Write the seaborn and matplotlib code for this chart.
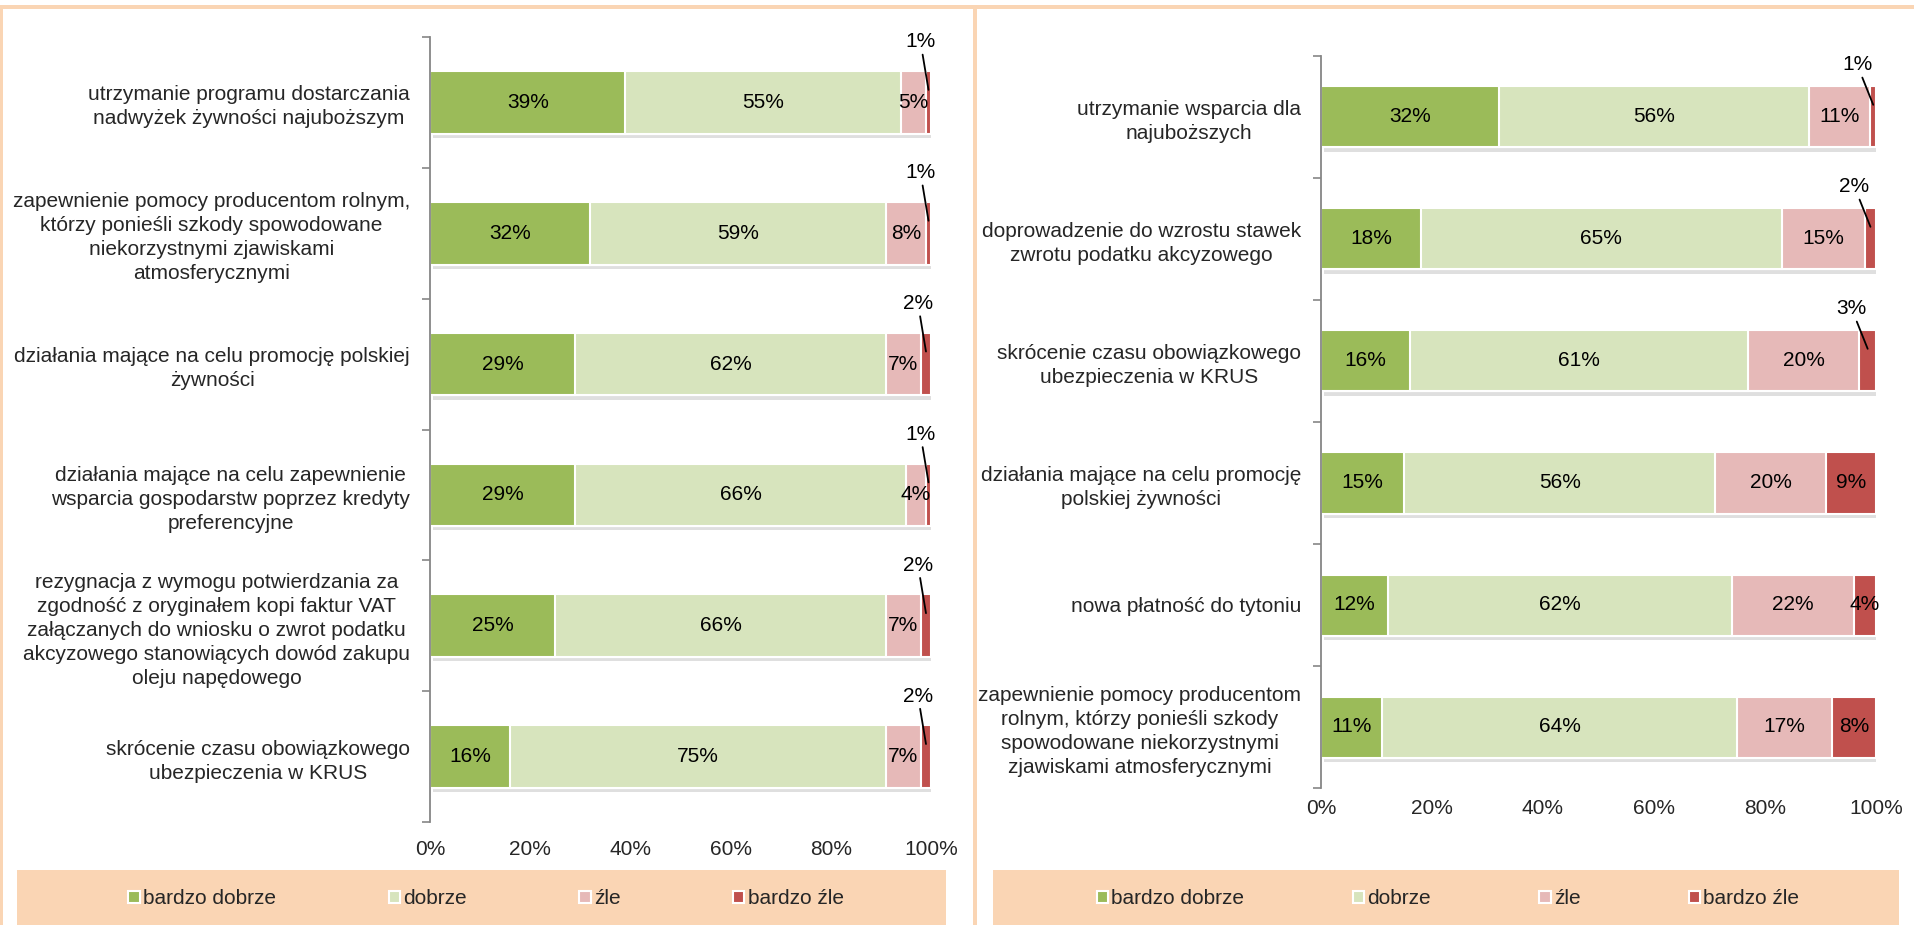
import numpy as np
import pandas as pd
import matplotlib
matplotlib.use("Agg")
import matplotlib.pyplot as plt
import matplotlib.patheffects as pe
from matplotlib.patches import Rectangle, Patch
import seaborn as sns

sns.set_theme(style="white")
plt.rcParams['font.family'] = ['Liberation Sans', 'DejaVu Sans']

# ---------------- data ----------------
series = ["bardzo dobrze", "dobrze", "źle", "bardzo źle"]
series_colors = ["#9BBB59", "#D7E4BD", "#E6B9B8", "#C0504D"]

left_categories = [
    "utrzymanie programu dostarczania\nnadwyżek żywności najuboższym",
    "zapewnienie pomocy producentom rolnym,\nktórzy ponieśli szkody spowodowane\nniekorzystnymi zjawiskami\natmosferycznymi",
    "działania mające na celu promocję polskiej\nżywności",
    "działania mające na celu zapewnienie\nwsparcia gospodarstw poprzez kredyty\npreferencyjne",
    "rezygnacja z wymogu potwierdzania za\nzgodność z oryginałem kopi faktur VAT\nzałączanych do wniosku o zwrot podatku\nakcyzowego stanowiących dowód zakupu\noleju napędowego",
    "skrócenie czasu obowiązkowego\nubezpieczenia w KRUS",
]
left_bardzo_dobrze = [39, 32, 29, 29, 25, 16]
left_dobrze = [55, 59, 62, 66, 66, 75]
left_zle = [5, 8, 7, 4, 7, 7]
left_bardzo_zle = [1, 1, 2, 1, 2, 2]

right_categories = [
    "utrzymanie wsparcia dla\nnajuboższych",
    "doprowadzenie do wzrostu stawek\nzwrotu podatku akcyzowego",
    "skrócenie czasu obowiązkowego\nubezpieczenia w KRUS",
    "działania mające na celu promocję\npolskiej żywności",
    "nowa płatność do tytoniu",
    "zapewnienie pomocy producentom\nrolnym, którzy ponieśli szkody\nspowodowane niekorzystnymi\nzjawiskami atmosferycznymi",
]
right_bardzo_dobrze = [32, 18, 16, 15, 12, 11]
right_dobrze = [56, 65, 61, 56, 62, 64]
right_zle = [11, 15, 20, 20, 22, 17]
right_bardzo_zle = [1, 2, 3, 9, 4, 8]

x_ticks = [0, 20, 40, 60, 80, 100]
x_tick_labels = ["0%", "20%", "40%", "60%", "80%", "100%"]

# ---------------- layout ----------------
W, H = 1915, 925
FS = 15
PEACH = "#FAD5B4"

fig = plt.figure(figsize=(W / 100, H / 100), dpi=100)
fig.patch.set_facecolor("white")


def px_rect(x0, y0, x1, y1):
    return [x0 / W, 1 - y1 / H, (x1 - x0) / W, (y1 - y0) / H]


def draw_panel(ax, cats, values, bar_width, lab_dx, lab_dy, xpad):
    vals = np.array(values)
    cum = np.cumsum(vals, axis=0)
    n = len(cats)
    for k in range(len(series) - 1, -1, -1):
        df = pd.DataFrame({"cat": cats, "value": cum[k]})
        start = len(ax.patches)
        sns.barplot(data=df, x="value", y="cat", orient="h", order=cats,
                    color=series_colors[k], saturation=1, width=bar_width,
                    edgecolor="white", linewidth=1.5, errorbar=None, ax=ax)
        if k == len(series) - 1:
            for p in ax.patches[start:]:
                p.set_path_effects([
                    pe.SimplePatchShadow(offset=(2, -3), shadow_rgbFace="#8c8c8c", alpha=0.28),
                    pe.Normal()])
    # value labels
    for k in range(len(series)):
        for i in range(n):
            v = vals[k][i]
            cx = cum[k][i] - v / 2
            if v > 3:
                ax.text(cx, i, f"{v}%", ha="center", va="center", fontsize=FS, color="black")
            else:
                ax.annotate(f"{v}%", xy=(cx, i - 0.2 * bar_width),
                            xytext=(lab_dx, lab_dy), textcoords="offset pixels",
                            ha="center", va="center", fontsize=FS, color="black",
                            arrowprops=dict(arrowstyle="-", color="black", lw=1.3,
                                            shrinkA=0, shrinkB=0))
    ax.set_xlim(0, 100)
    ax.set_ylim(n - 0.5, -0.5)
    ax.set_xlabel("")
    ax.set_ylabel("")
    ax.set_xticks(x_ticks, labels=x_tick_labels)
    ax.set_yticks(np.arange(-0.5, n, 1.0), labels=[""] * (n + 1))
    ax.set_yticks(np.arange(n), labels=cats, minor=True)
    ax.tick_params(axis="y", which="major", length=6, width=1.2, color="#868686",
                   direction="out", left=True)
    ax.tick_params(axis="y", which="minor", length=0, pad=20 * 0.72, labelsize=FS)
    ax.tick_params(axis="x", length=0, pad=xpad, labelsize=FS)
    for lab in ax.get_yticklabels(minor=True):
        lab.set_multialignment("center")
        lab.set_linespacing(1.33)
    for s in ["top", "right", "bottom"]:
        ax.spines[s].set_visible(False)
    ax.spines["left"].set_color("#868686")
    ax.spines["left"].set_linewidth(1.3)
    ax.set_facecolor("none")
    ax.grid(False)


ax_l = fig.add_axes(px_rect(430, 37, 931, 822))
draw_panel(ax_l, left_categories,
           [left_bardzo_dobrze, left_dobrze, left_zle, left_bardzo_zle],
           0.48, -8, 48, 13)

ax_r = fig.add_axes(px_rect(1321, 56, 1876, 788))
draw_panel(ax_r, right_categories,
           [right_bardzo_dobrze, right_dobrze, right_zle, right_bardzo_zle],
           0.50, -16, 40, 8)

# ---------------- frame decorations ----------------
def fig_rect(x0, y0, x1, y1, color):
    r = Rectangle((x0 / W, 1 - y1 / H), (x1 - x0) / W, (y1 - y0) / H,
                  transform=fig.transFigure, facecolor=color, edgecolor="none", zorder=0)
    fig.add_artist(r)


fig_rect(0, 5, W, 9, PEACH)          # top border line
fig_rect(0, 5, 3, H, PEACH)          # left border line
fig_rect(973, 5, 977, H, PEACH)      # divider
fig_rect(17, 870, 946, H, PEACH)     # left legend box
fig_rect(993, 870, 1899, H, PEACH)   # right legend box

handles = [Patch(facecolor=c, edgecolor="white", linewidth=1.5) for c in series_colors]
for cx, cs in ((486, 5.4), (1448, 5.2)):
    fig.legend(handles=handles, labels=series, loc="center",
               bbox_to_anchor=(cx / W, 1 - 899 / H), ncol=4, frameon=False,
               fontsize=FS, handlelength=0.55, handleheight=0.55,
               handletextpad=0.15, columnspacing=cs)

fig.savefig("out.png", dpi=100, facecolor="white")
